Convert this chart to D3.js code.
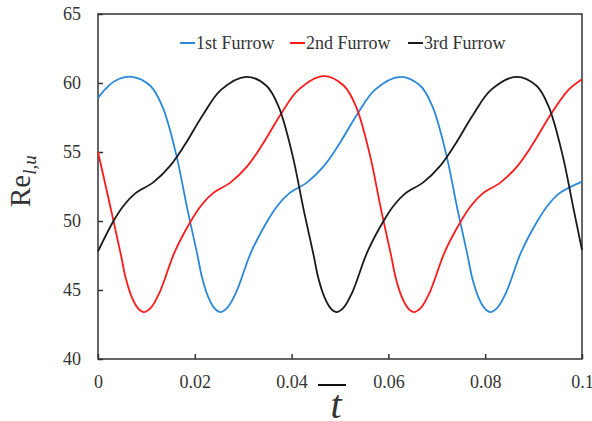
<!DOCTYPE html>
<html>
<head>
<meta charset="utf-8">
<script src="https://cdn.jsdelivr.net/npm/d3@7"></script>
<style>
  body { margin: 0; background: #fff; }
  svg text { font-family: "Liberation Serif", "Times New Roman", serif; fill: #333; }
</style>
</head>
<body>
<div id="chart"></div>
<script>
// values: [t, Re]
const furrow1 = [
  [0, 58.9], [0.0015, 59.55], [0.0035, 60.15], [0.007, 60.45], [0.0108, 59.8],
  [0.0133, 58.3], [0.0161, 54.9], [0.0185, 50.8], [0.0205, 47.6], [0.0215, 45.9],
  [0.0227, 44.55], [0.024, 43.7], [0.0252, 43.4], [0.0267, 43.7], [0.0285, 44.8],
  [0.0317, 47.8], [0.035, 50.0], [0.0372, 51.16], [0.0395, 52.0], [0.0432, 52.8],
  [0.0467, 54.0], [0.0497, 55.5], [0.0535, 57.7], [0.0572, 59.5], [0.0624, 60.45],
  [0.0666, 59.8], [0.0691, 58.3], [0.0719, 54.9], [0.0743, 50.8], [0.0763, 47.6],
  [0.0773, 45.9], [0.0785, 44.55], [0.0798, 43.7], [0.081, 43.4], [0.0825, 43.7],
  [0.0843, 44.8], [0.0875, 47.8], [0.0908, 50.0], [0.093, 51.16], [0.0953, 52.0],
  [0.1, 52.85]
];
const furrow2 = [
  [0, 55.0], [0.0027, 50.8], [0.0047, 47.6], [0.0057, 45.9], [0.0069, 44.55],
  [0.0082, 43.7], [0.0094, 43.4], [0.0109, 43.7], [0.0127, 44.8], [0.0159, 47.8],
  [0.0192, 50.0], [0.0214, 51.16], [0.0237, 52.0], [0.0274, 52.8], [0.0309, 54.0],
  [0.0339, 55.5], [0.0377, 57.7], [0.0414, 59.5], [0.0466, 60.5], [0.0508, 59.8],
  [0.0533, 58.3], [0.0561, 54.9], [0.0585, 50.8], [0.0605, 47.6], [0.0615, 45.9],
  [0.0627, 44.55], [0.064, 43.7], [0.0652, 43.4], [0.0667, 43.7], [0.0685, 44.8],
  [0.0717, 47.8], [0.075, 50.0], [0.0772, 51.16], [0.0795, 52.0], [0.0832, 52.8],
  [0.0867, 54.0], [0.0897, 55.5], [0.0935, 57.7], [0.0972, 59.5], [0.1, 60.27]
];
const furrow3 = [
  [0, 47.8], [0.0032, 50.0], [0.0054, 51.16], [0.0077, 52.0], [0.0114, 52.8],
  [0.0149, 54.0], [0.0179, 55.5], [0.0217, 57.7], [0.0254, 59.5], [0.0306, 60.45],
  [0.0348, 59.8], [0.0373, 58.3], [0.0401, 54.9], [0.0425, 50.8], [0.0445, 47.6],
  [0.0455, 45.9], [0.0467, 44.55], [0.048, 43.7], [0.0492, 43.4], [0.0507, 43.7],
  [0.0525, 44.8], [0.0557, 47.8], [0.059, 50.0], [0.0612, 51.16], [0.0635, 52.0],
  [0.0672, 52.8], [0.0707, 54.0], [0.0737, 55.5], [0.0775, 57.7], [0.0812, 59.5],
  [0.0864, 60.45], [0.0906, 59.8], [0.0931, 58.3], [0.0959, 54.9], [0.0983, 50.8],
  [0.1, 47.9]
];

const seriesNames = ['1st Furrow', '2nd Furrow', '3rd Furrow'];
const seriesColors = ['#2b88d8', '#ff1a1a', '#1a1a1a'];
const xTicks = [0, 0.02, 0.04, 0.06, 0.08, 0.1];
const yTicks = [40, 45, 50, 55, 60, 65];

const width = 592, height = 421;
const margin = {left: 98, right: 10, top: 14, bottom: 62};

const svg = d3.select('#chart')
    .append('svg')
    .attr('width', width)
    .attr('height', height);

const x = d3.scaleLinear().domain([0, 0.1]).range([margin.left, width - margin.right]);
const y = d3.scaleLinear().domain([40, 65]).range([height - margin.bottom, margin.top]);

// axes, ticks pointing inward
const yAxis = svg.append('g')
    .attr('transform', `translate(${margin.left},0)`)
    .call(d3.axisLeft(y).tickValues(yTicks).tickSize(-5).tickPadding(17).tickFormat(d3.format('d')));
const xAxis = svg.append('g')
    .attr('transform', `translate(0,${height - margin.bottom})`)
    .call(d3.axisBottom(x).tickValues(xTicks).tickSize(-5).tickPadding(16).tickFormat(d => d === 0 ? '0' : String(d)));

[xAxis, yAxis].forEach(a => {
  a.select('.domain').remove();
  a.selectAll('.tick line').attr('stroke', '#333').attr('stroke-width', 1.5);
  a.selectAll('.tick text').attr('font-size', 18).attr('fill', '#333')
      .style('font-family', '"Liberation Serif", serif');
});

// frame
svg.append('rect')
    .attr('x', x(0))
    .attr('y', y(65))
    .attr('width', x(0.1) - x(0))
    .attr('height', y(40) - y(65))
    .attr('fill', 'none')
    .attr('stroke', '#333')
    .attr('stroke-width', 1.5);

const line = d3.line()
    .x(d => x(d[0]))
    .y(d => y(d[1]))
    .curve(d3.curveCatmullRom.alpha(0.5));

[furrow1, furrow2, furrow3].forEach((data, i) => {
  svg.append('path')
      .datum(data)
      .attr('d', line)
      .attr('fill', 'none')
      .attr('stroke', seriesColors[i])
      .attr('stroke-width', 1.8);
});

// legend
const legendX = [180, 290, 408];
const legend = svg.append('g');
seriesNames.forEach((name, i) => {
  legend.append('line')
      .attr('x1', legendX[i]).attr('x2', legendX[i] + 15)
      .attr('y1', 43).attr('y2', 43)
      .attr('stroke', seriesColors[i])
      .attr('stroke-width', 2);
  legend.append('text')
      .attr('x', legendX[i] + 16)
      .attr('y', 49)
      .attr('font-size', 18)
      .text(name);
});

// y label: Re with subscript l,u
const yLabel = svg.append('text')
    .attr('transform', 'translate(30,207) rotate(-90)')
    .attr('font-size', 29)
    .attr('fill', '#111');
yLabel.append('tspan').text('Re');
yLabel.append('tspan')
    .attr('font-size', 19)
    .attr('font-style', 'italic')
    .attr('dy', 6)
    .text('l,u');

// x label: t with overline
svg.append('text')
    .attr('x', 336)
    .attr('y', 418)
    .attr('text-anchor', 'middle')
    .attr('font-size', 40)
    .attr('font-style', 'italic')
    .attr('fill', '#111')
    .text('t');
svg.append('line')
    .attr('x1', 318).attr('x2', 346)
    .attr('y1', 385).attr('y2', 385)
    .attr('stroke', '#111')
    .attr('stroke-width', 2);
</script>
</body>
</html>
